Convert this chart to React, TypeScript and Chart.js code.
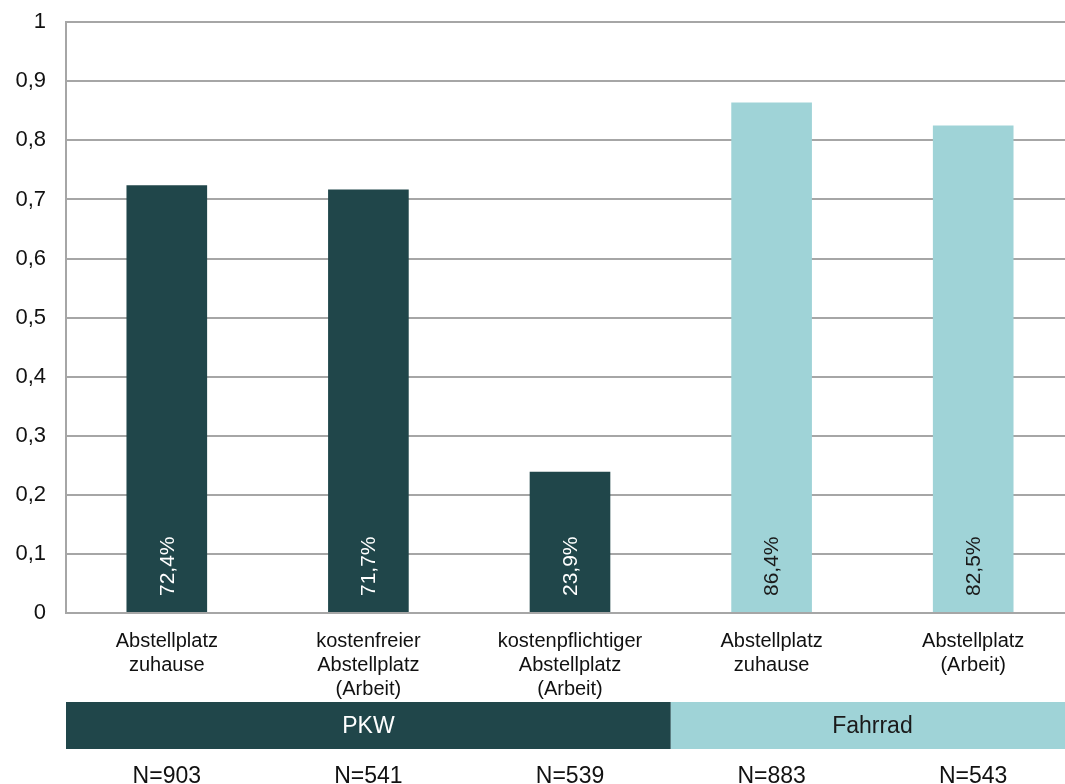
import React, { useEffect, useRef } from "react";
import { Chart, registerables } from "chart.js";

Chart.register(...registerables);

const categories: string[][] = [
  ["Abstellplatz", "zuhause"],
  ["kostenfreier", "Abstellplatz", "(Arbeit)"],
  ["kostenpflichtiger", "Abstellplatz", "(Arbeit)"],
  ["Abstellplatz", "zuhause"],
  ["Abstellplatz", "(Arbeit)"],
];
const values: number[] = [0.724, 0.717, 0.239, 0.864, 0.825];
const valueLabels: string[] = ["72,4%", "71,7%", "23,9%", "86,4%", "82,5%"];
const groupNames: string[] = ["PKW", "PKW", "PKW", "Fahrrad", "Fahrrad"];
const nLabels: string[] = ["N=903", "N=541", "N=539", "N=883", "N=543"];

const DARK = "#20464a";
const LIGHT = "#9fd3d7";
const GRID = "#a6a6a6";
const FONT = "'Liberation Sans', Arial, sans-serif";
const SHIFT = 11;

const colorFor = (g: string) => (g === "PKW" ? DARK : LIGHT);
const textFor = (g: string) => (g === "PKW" ? "#ffffff" : "#1a1a1a");

const overlayPlugin = {
  id: "overlay",
  afterDatasetsDraw(chart: any) {
    const ctx = chart.ctx;
    const meta = chart.getDatasetMeta(0);
    ctx.save();
    ctx.font = `21px ${FONT}`;
    meta.data.forEach((el: any, i: number) => {
      ctx.save();
      ctx.translate(el.x, el.base - 16);
      ctx.rotate(-Math.PI / 2);
      ctx.textAlign = "left";
      ctx.textBaseline = "middle";
      ctx.fillStyle = textFor(groupNames[i]);
      ctx.fillText(valueLabels[i], 0, 1);
      ctx.restore();
    });
    ctx.restore();
  },
  afterDraw(chart: any) {
    const ctx = chart.ctx;
    const x = chart.scales.x;
    const n = categories.length;
    const w = (x.right - x.left) / n;
    const bandTop = 702 + SHIFT;
    const bandBottom = 749 + SHIFT;
    const groups: { name: string; start: number; end: number }[] = [];
    groupNames.forEach((g, i) => {
      const last = groups[groups.length - 1];
      if (last && last.name === g) last.end = i;
      else groups.push({ name: g, start: i, end: i });
    });
    ctx.save();
    groups.forEach((g) => {
      const x0 = x.getPixelForValue(g.start) - w / 2;
      const x1 = x.getPixelForValue(g.end) + w / 2;
      ctx.fillStyle = colorFor(g.name);
      ctx.fillRect(x0, bandTop, x1 - x0, bandBottom - bandTop);
      ctx.fillStyle = textFor(g.name);
      ctx.font = `23px ${FONT}`;
      ctx.textAlign = "center";
      ctx.textBaseline = "middle";
      ctx.fillText(g.name, (x0 + x1) / 2, (bandTop + bandBottom) / 2 + 1);
    });
    ctx.fillStyle = "#111111";
    ctx.font = `23px ${FONT}`;
    ctx.textAlign = "center";
    ctx.textBaseline = "middle";
    nLabels.forEach((t, i) => {
      ctx.fillText(t, x.getPixelForValue(i), 777 + SHIFT);
    });
    ctx.restore();
  },
};

export default function App() {
  const ref = useRef<HTMLCanvasElement | null>(null);
  useEffect(() => {
    if (!ref.current) return;
    const chart = new Chart(ref.current, {
      type: "bar",
      data: {
        labels: categories,
        datasets: [
          {
            data: values,
            backgroundColor: groupNames.map(colorFor),
            barPercentage: 0.4,
            categoryPercentage: 1,
          },
        ],
      },
      options: {
        animation: false,
        responsive: false,
        devicePixelRatio: 1,
        layout: { padding: { top: 10, right: 4, left: 0, bottom: 0 } },
        plugins: {
          legend: { display: false },
          tooltip: { enabled: false },
        },
        scales: {
          x: {
            grid: { display: false, drawTicks: false },
            border: { display: true, color: GRID, width: 2 },
            ticks: {
              color: "#111111",
              font: { family: FONT, size: 20, lineHeight: 1.2 },
              padding: 16,
              maxRotation: 0,
              autoSkip: false,
            },
            afterFit: (s: any) => {
              s.height = 171;
            },
          },
          y: {
            min: 0,
            max: 1,
            grid: { color: GRID, lineWidth: 2, drawTicks: false },
            border: { display: true, color: GRID, width: 2 },
            ticks: {
              stepSize: 0.1,
              color: "#111111",
              font: { family: FONT, size: 22 },
              padding: 20,
              callback: (v: any) =>
                String(Math.round(Number(v) * 10) / 10).replace(".", ","),
            },
            afterFit: (s: any) => {
              s.width = 66;
            },
          },
        },
      },
      plugins: [overlayPlugin],
    });
    return () => chart.destroy();
  }, []);
  return (
    <div
      style={{
        position: "absolute",
        left: 0,
        top: 0,
        width: 1065,
        height: 784,
        overflow: "hidden",
        background: "#ffffff",
      }}
    >
      <canvas
        ref={ref}
        width={1078}
        height={784 + SHIFT}
        style={{ display: "block", position: "absolute", left: 0, top: -SHIFT }}
      />
    </div>
  );
}
